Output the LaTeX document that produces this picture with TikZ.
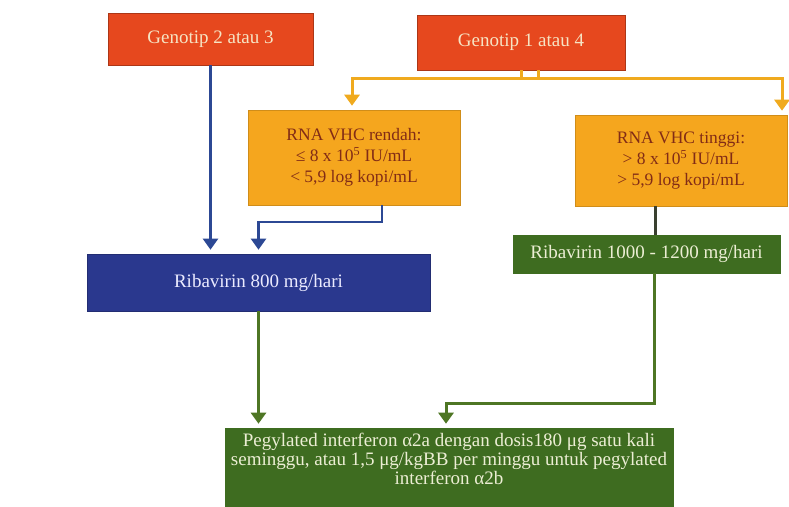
\documentclass[tikz,border=0pt]{standalone}
\usepackage{fontspec}
\setmainfont{Liberation Serif}
\usetikzlibrary{arrows.meta}

\begin{document}
\begin{tikzpicture}[
  x=1pt, y=-1pt, % one pixel of the scan, y going down
  line join=miter,
  box/.style={draw, line width=0.6pt, inner sep=2pt, align=center,
    font=\fontsize{19}{20}\selectfont},
  genobox/.style={box, fill=genored, draw=genored!75!black, text=genotext},
  rnabox/.style={box, fill=rnaorange, draw=rnaorange!85!black, text=rnatext,
    font=\fontsize{17.5}{21}\selectfont},
  ribabox/.style={box, fill=ribablue, draw=ribablue!80!black, text=white!92!blue},
  greenbox/.style={box, fill=pegreen, draw=pegreen, text=greentext},
  link/.style={line width=3pt},
  tip/.style={-{Triangle[width=15pt,length=11pt]}, shorten >=4pt}
]
  % ---- colours ----
  \definecolor{genored}{RGB}{230,72,30}
  \definecolor{genotext}{RGB}{246,228,196}
  \definecolor{rnaorange}{RGB}{245,166,30}
  \definecolor{rnatext}{RGB}{130,44,22}
  \definecolor{ribablue}{RGB}{42,56,142}
  \definecolor{pegreen}{RGB}{62,108,32}
  \definecolor{greentext}{RGB}{236,238,212}
  \definecolor{orangeline}{RGB}{240,170,30}
  \definecolor{blueline}{RGB}{44,72,148}
  \definecolor{greenline}{RGB}{78,118,36}
  \definecolor{darkline}{RGB}{58,64,48}

  % ---- page ----
  \fill[white] (0,0) rectangle (789,506);
  \useasboundingbox (0,0) rectangle (789,506);

  % ---- boxes ----
  \node[genobox, minimum width=205pt, minimum height=52pt] (g23) at (210.5,39) {Genotip 2 atau 3};
  \node[genobox, minimum width=208pt, minimum height=55pt] (g14) at (521,42.5) {Genotip 1 atau 4};

  \node[rnabox, minimum width=212pt, minimum height=95pt] (rnaL) at (354,157.5)
    {RNA VHC rendah:\\ ≤ 8 x 10\textsuperscript{5} IU/mL\\ < 5,9 log kopi/mL};
  \node[rnabox, minimum width=212pt, minimum height=91pt] (rnaH) at (681,160.5)
    {RNA VHC tinggi:\\ > 8 x 10\textsuperscript{5} IU/mL\\ > 5,9 log kopi/mL};

  \node[ribabox, minimum width=343pt, minimum height=57pt] (rib8) at (258.5,282.5) {Ribavirin 800 mg/hari};
  \node[greenbox, minimum width=267pt, minimum height=38pt] (rib12) at (646.5,254) {Ribavirin 1000 - 1200 mg/hari};

  % box runs on to the page edge, text sits in its upper part
  \node[greenbox, minimum width=448pt, minimum height=78pt] (peg) at (449,467) {};
  \node[align=center, inner sep=0pt, text=greentext, font=\fontsize{19}{19}\selectfont] (pegtext) at (449,459)
    {Pegylated interferon α2a dengan dosis180 μg satu kali\\
     seminggu, atau 1,5 μg/kgBB per minggu untuk pegylated\\
     interferon α2b};

  % ---- genotip 1 atau 4: split to both RNA boxes ----
  \draw[link, orangeline] (g14.south) -- ++(0,8) coordinate (split);
  \draw[link, orangeline] ([xshift=17pt]g14.south) -- ++(0,8);
  \draw[link, orangeline, tip] (split) -| ([xshift=-2pt]rnaL.north);
  \draw[link, orangeline, tip] (split) -| ([xshift=101pt]rnaH.north);

  % ---- to ribavirin 800 ----
  \draw[link, line width=2.2pt, blueline, tip] (g23.south) -- (g23.south |- rib8.north);
  \draw[link, line width=2.2pt, blueline, tip] ([xshift=28pt]rnaL.south) -- ++(0,17) -| (rib8.north);

  % ---- to ribavirin 1000 - 1200 ----
  \draw[link, darkline] ([xshift=-26pt]rnaH.south) -- ([xshift=-26pt]rnaH.south |- rib12.north);

  % ---- to pegylated interferon ----
  \draw[link, greenline, tip] (rib8.south) -- (rib8.south |- peg.north);
  \draw[link, greenline, tip] ([xshift=8pt]rib12.south) -- ++(0,130) -| ([xshift=-3pt]peg.north);

\end{tikzpicture}
\end{document}
